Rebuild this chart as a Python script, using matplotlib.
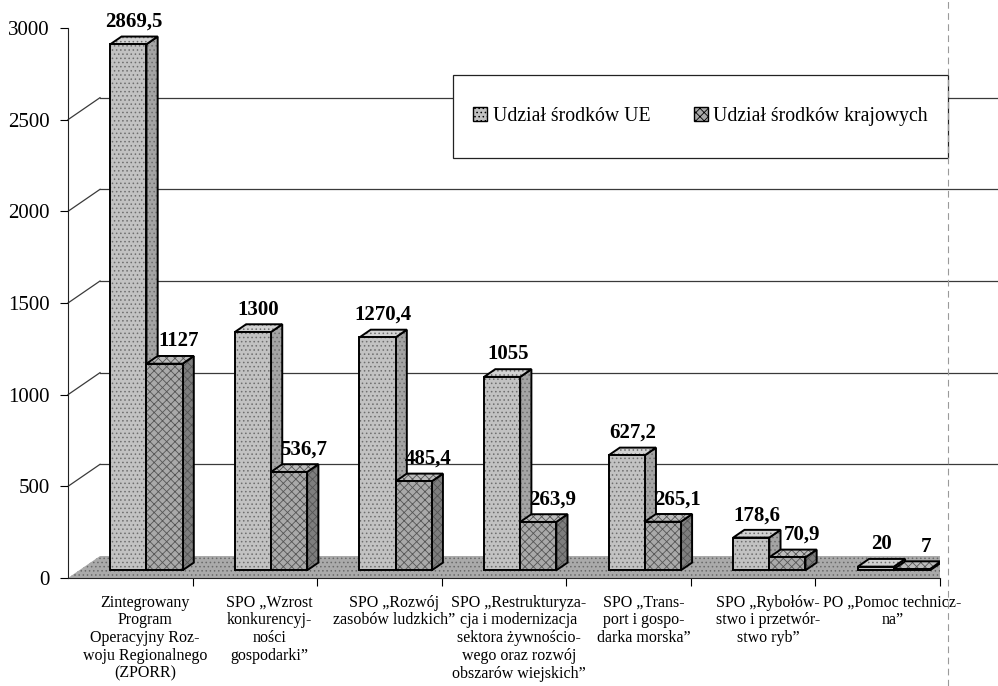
import matplotlib
matplotlib.use("Agg")
import matplotlib.pyplot as plt
from matplotlib.patches import Polygon, Patch, Rectangle
from matplotlib.lines import Line2D

plt.rcParams['font.family'] = ['Liberation Serif', 'DejaVu Serif']
plt.rcParams['hatch.linewidth'] = 0.6

# Data
categories = [
    "Zintegrowany\nProgram\nOperacyjny Roz-\nwoju Regionalnego\n(ZPORR)",
    "SPO „Wzrost\nkonkurencyj-\nności\ngospodarki”",
    "SPO „Rozwój\nzasobów ludzkich”",
    "SPO „Restrukturyza-\ncja i modernizacja\nsektora żywnościo-\nwego oraz rozwój\nobszarów wiejskich”",
    "SPO „Trans-\nport i gospo-\ndarka morska”",
    "SPO „Rybołów-\nstwo i przetwór-\nstwo ryb”",
    "PO „Pomoc technicz-\nna”",
]
ue = [2869.5, 1300, 1270.4, 1055, 627.2, 178.6, 20]
krajowe = [1127, 536.7, 485.4, 263.9, 265.1, 70.9, 7]
ue_labels = ["2869,5", "1300", "1270,4", "1055", "627,2", "178,6", "20"]
kraj_labels = ["1127", "536,7", "485,4", "263,9", "265,1", "70,9", "7"]
y_ticks = [0, 500, 1000, 1500, 2000, 2500, 3000]
series_names = ["Udział środków UE", "Udział środków krajowych"]

# fake 3D geometry (depth of floor in x/category units and y/value units)
DX, DY = 0.257, 120
F0, F1 = 0.35, 0.70
W = 0.29
bdx, bdy = (F1 - F0) * DX, (F1 - F0) * DY
base = F0 * DY

styles = {
    "ue": dict(front="#c2c2c2", top="#d2d2d2", side="#a4a4a4", hatch="....", hc="#6e6e6e"),
    "kr": dict(front="#a9a9a9", top="#bcbcbc", side="#7e7e7e", hatch="xxxx", hc="#555555"),
}

fig = plt.figure(figsize=(9.98, 6.86), dpi=100)
ax = fig.add_axes([68 / 998, 108 / 686, 872 / 998, 550 / 686])
ax.set_xlim(0, 7)
ax.set_ylim(0, 3000)

# back wall grid + left wall diagonals
for v in y_ticks[1:-1]:
    ax.plot([DX, 7.47], [v + DY, v + DY], color="#3a3a3a", lw=0.9, zorder=0.5, clip_on=False)
    ax.plot([0, DX], [v, v + DY], color="#3a3a3a", lw=0.9, zorder=0.5, clip_on=False)

# floor
n = len(categories)
ax.add_patch(Polygon([(0, 0), (n, 0), (n + DX, DY), (DX, DY)], closed=True,
                     facecolor="#aaaaaa", edgecolor="#6a6a6a", hatch="....",
                     lw=0, zorder=1))


def face(pts, fc, st, z):
    ax.add_patch(Polygon(pts, closed=True, facecolor=fc, edgecolor=st["hc"],
                         hatch=st["hatch"], lw=0, zorder=z))
    ax.add_patch(Polygon(pts, closed=True, fill=False, edgecolor="black",
                         lw=1.4, zorder=z + 0.01))


def box(x0, h, st, z):
    top = base + h
    face([(x0 + W, base), (x0 + W + bdx, base + bdy), (x0 + W + bdx, top + bdy), (x0 + W, top)],
         st["side"], st, z)
    face([(x0, top), (x0 + W, top), (x0 + W + bdx, top + bdy), (x0 + bdx, top + bdy)],
         st["top"], st, z + 0.1)
    ax.bar(x0, h, W, bottom=base, align="edge", color=st["front"], edgecolor=st["hc"],
           hatch=st["hatch"], lw=0, zorder=z + 0.2)
    ax.bar(x0, h, W, bottom=base, align="edge", fill=False, edgecolor="black",
           lw=1.4, zorder=z + 0.21)


for i in range(n):
    x_ue = i + 0.25 + F0 * DX
    x_kr = x_ue + W
    z = 2 + i
    box(x_ue, ue[i], styles["ue"], z)
    box(x_kr, krajowe[i], styles["kr"], z + 0.5)
    ax.annotate(ue_labels[i], (x_ue + W / 2 + bdx / 2, base + ue[i] + bdy),
                xytext=(0, 7), textcoords="offset points", ha="center", va="baseline",
                fontsize=15, fontweight="bold", zorder=20, annotation_clip=False)
    ax.annotate(kraj_labels[i], (x_kr + W / 2 + bdx / 2 + 0.07, base + krajowe[i] + bdy),
                xytext=(0, 7), textcoords="offset points", ha="center", va="baseline",
                fontsize=15, fontweight="bold", zorder=20, annotation_clip=False)

# axes styling
for s in ["top", "right"]:
    ax.spines[s].set_visible(False)
ax.spines["left"].set_color("#222222")
ax.spines["bottom"].set_color("#222222")
ax.spines["left"].set_zorder(30)
ax.set_yticks(y_ticks)
ax.tick_params(axis="y", direction="out", length=6, pad=7, labelsize=15)
ax.set_xticks(range(1, n + 1))
ax.set_xticklabels([])
ax.set_xticks([i + 0.62 for i in range(n)], labels=categories, minor=True)
ax.tick_params(axis="x", which="major", direction="out", length=6)
ax.tick_params(axis="x", which="minor", length=0, pad=12, labelsize=11.5)
for t in ax.get_xticklabels(minor=True):
    t.set_linespacing(1.15)
    t.set_multialignment("center")

# legend: white box drawn separately so its height matches the original
fig.add_artist(Rectangle((453 / 998, 1 - 158 / 686), 495 / 998, 83 / 686,
                         transform=fig.transFigure, facecolor="white",
                         edgecolor="#222222", lw=0.9, zorder=4))
handles = [Patch(facecolor=styles["ue"]["front"], edgecolor="black", hatch="...."),
           Patch(facecolor=styles["kr"]["front"], edgecolor="black", hatch="xxxx")]
leg = fig.legend(handles, series_names, loc="center",
                 bbox_to_anchor=(700.5 / 998, 1 - 116.5 / 686),
                 ncol=2, fontsize=14.2, frameon=False, handlelength=0.7, handleheight=0.7,
                 handletextpad=0.3, columnspacing=2.2)
leg.set_zorder(5)

# faint fold line from the scanned page
fig.add_artist(Line2D([0.95, 0.95], [0, 1], transform=fig.transFigure,
                      color="#9a9a9a", lw=0.8, ls=(0, (6, 4)), zorder=6))

plt.savefig("out.png", dpi=100)
